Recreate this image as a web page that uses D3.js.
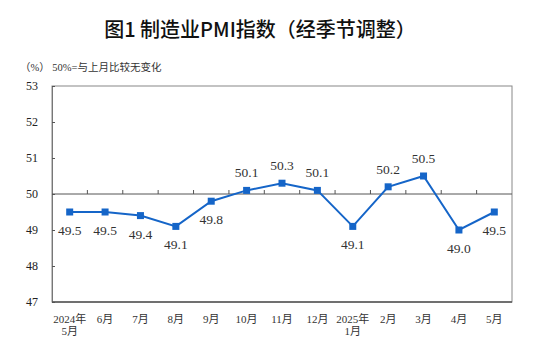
<!DOCTYPE html>
<html><head><meta charset="utf-8">
<script src="https://cdn.jsdelivr.net/npm/d3@7"></script>
<style>body{margin:0;background:#fff;}svg{display:block;}</style>
</head><body>
<script>
const categories = ["2024年\n5月","6月","7月","8月","9月","10月","11月","12月","2025年\n1月","2月","3月","4月","5月"];
const values = [49.5,49.5,49.4,49.1,49.8,50.1,50.3,50.1,49.1,50.2,50.5,49.0,49.5];
const labelPos = ["below","below","below","below","below","above","above","above","below","above","above","below","below"];
const yTicks = [47,48,49,50,51,52,53];

const W=542,H=352;
const m={l:52,r:30,t:86,b:50};
const svg=d3.select("body").append("svg").attr("width",W).attr("height",H);
const x=d3.scaleBand().domain(categories).range([m.l,W-m.r]);
const y=d3.scaleLinear().domain([47,53]).range([H-m.b,m.t]);
const serif="'Liberation Serif','Times New Roman','Noto Sans CJK SC',serif";

svg.append("text").attr("x",260).attr("y",37).attr("text-anchor","middle")
  .attr("font-family","'Noto Sans CJK SC',sans-serif").attr("font-weight",500).attr("font-size",20).attr("fill","#111")
  .text("图1 制造业PMI指数（经季节调整）");
svg.append("text").attr("x",20).attr("y",71).attr("font-family",serif).attr("font-size",10.5).attr("fill","#333")
  .text("（%） 50%=与上月比较无变化");

// frame
svg.append("rect").attr("x",m.l).attr("y",m.t).attr("width",W-m.r-m.l).attr("height",H-m.b-m.t)
  .attr("fill","none").attr("stroke","#888").attr("stroke-width",1);

// y axis
const ya=svg.append("g").attr("transform",`translate(${m.l},0)`)
  .call(d3.axisLeft(y).tickValues(yTicks).tickSize(-3).tickPadding(14).tickFormat(d3.format("d")));
ya.select(".domain").attr("stroke","#777");
ya.selectAll(".tick line").attr("stroke","#555");
ya.selectAll("text").attr("font-family",serif).attr("font-size",12).attr("fill","#222");

// 50 baseline axis with ticks at band boundaries
const y50=y(50);
svg.append("line").attr("x1",m.l).attr("x2",W-m.r).attr("y1",y50).attr("y2",y50).attr("stroke","#555").attr("stroke-width",1);
svg.selectAll(".bt").data(categories.slice(1)).enter().append("line")
  .attr("x1",d=>x(d)).attr("x2",d=>x(d)).attr("y1",y50).attr("y2",y50-4).attr("stroke","#555");

// bottom axis
svg.append("line").attr("x1",m.l).attr("x2",W-m.r).attr("y1",y(47)).attr("y2",y(47)).attr("stroke","#555").attr("stroke-width",1.5);
const xl=svg.append("g");
categories.forEach(c=>{
  const t=xl.append("text").attr("x",x(c)+x.bandwidth()/2).attr("y",y(47)+21).attr("text-anchor","middle")
    .attr("font-family",serif).attr("font-size",11).attr("fill","#333");
  c.split("\n").forEach((s,i)=>t.append("tspan").attr("x",x(c)+x.bandwidth()/2).attr("dy",i?12:0).text(s));
});

// line
const cx=(d,i)=>x(categories[i])+x.bandwidth()/2;
const blue="#1565c8";
svg.append("path").datum(values).attr("fill","none").attr("stroke",blue).attr("stroke-width",2)
  .attr("d",d3.line().x((d,i)=>cx(d,i)).y(d=>y(d)));
svg.selectAll(".mk").data(values).enter().append("rect")
  .attr("x",(d,i)=>cx(d,i)-3.5).attr("y",d=>y(d)-3.5).attr("width",7).attr("height",7).attr("fill",blue);
svg.selectAll(".vl").data(values).enter().append("text")
  .attr("x",(d,i)=>cx(d,i)).attr("y",(d,i)=>labelPos[i]==="above"?y(d)-13:y(d)+23)
  .attr("text-anchor","middle").attr("font-family",serif).attr("font-size",13.5).attr("fill","#333")
  .text(d=>d.toFixed(1));
</script>
</body></html>
